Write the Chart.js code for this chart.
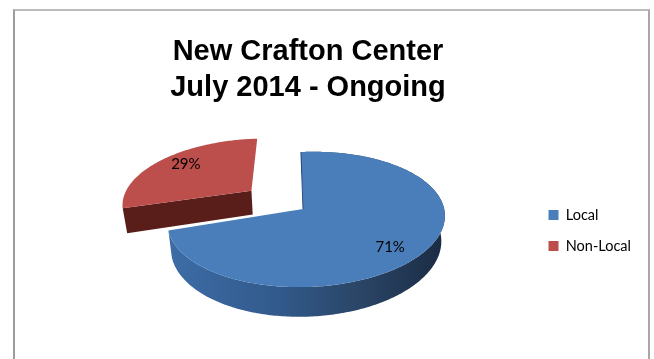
<!DOCTYPE html>
<html>
<head>
<meta charset="utf-8">
<title>New Crafton Center</title>
<style>
    html, body { margin: 0; padding: 0; background: #fff; overflow: hidden; }
    #frame { position: absolute; left: 13px; top: 9px; width: 637px; height: 350px; box-sizing: border-box;
             border-left: 2px solid #9c9c9c; border-right: 2px solid #a8a8a8; border-top: 2px solid #bcbcbc; }
    #chart { position: absolute; left: 0; top: 0; }
</style>
<script src="https://cdn.jsdelivr.net/npm/chart.js@4"></script>
</head>
<body>
<div id="frame"></div>
<canvas id="chart" width="654" height="359"></canvas>
<script>
const titleLines = ["New Crafton Center", "July 2014 - Ongoing"];
const categories = ["Local", "Non-Local"];
const shares = [71, 29];
const sliceColors = ["#4a7ebb", "#bc4f4b"];
const wallColors = ["#2d4f7c", "#591e19"];

// how far each slice is pulled out, and where its label sits (radius share, turn in radians)
const explode = [0, 0.5];
const sliceRoll = [0, -0.02];
const labelRadius = [0.8, 0.77];
const labelTurn = [0.13, 0.06];

// tilted-disc view of the pie
const view = { cx: 303, cy: 209, sx: 137, sy: 65.9, k: 0.156, m: 0.02, roll: 0.036 };

function project(px, py, lower, extraRoll) {
    const w = 1 - view.k * py - view.m * px;
    const x = view.sx * px / w;
    const y = view.sy * py / w;
    const roll = view.roll + extraRoll;
    let xr = x * Math.cos(roll) + y * Math.sin(roll);
    let yr = y * Math.cos(roll) - x * Math.sin(roll);
    if (lower) {
        xr *= 0.975;
        yr = yr * 1.06 + 25;
    }
    return [view.cx + xr, view.cy + yr];
}

function rim(arc, shift, lower, extraRoll) {
    const pts = [];
    const steps = Math.ceil((arc.endAngle - arc.startAngle) / 0.015);
    for (let i = 0; i <= steps; i++) {
        const a = arc.startAngle + (arc.endAngle - arc.startAngle) * i / steps;
        pts.push(project(shift[0] + Math.cos(a), shift[1] + Math.sin(a), lower, extraRoll));
    }
    return pts;
}

function fillPoly(ctx, pts, fill) {
    ctx.beginPath();
    pts.forEach((p, i) => i ? ctx.lineTo(p[0], p[1]) : ctx.moveTo(p[0], p[1]));
    ctx.closePath();
    ctx.fillStyle = fill;
    ctx.fill();
}

// draws the arcs computed by the pie controller as a thick tilted disc
const tiltedPie = {
    id: "tiltedPie",
    afterLayout(chart) {
        // the legend sits beside the pie, not in the middle of the canvas
        chart.legend.top += 51;
        chart.legend.bottom += 51;
    },
    beforeDatasetsDraw(chart) {
        const ctx = chart.ctx;
        const arcs = chart.getDatasetMeta(0).data;
        for (let i = arcs.length - 1; i >= 0; i--) {
            const arc = arcs[i];
            const mid = (arc.startAngle + arc.endAngle) / 2;
            const shift = [Math.cos(mid) * explode[i], Math.sin(mid) * explode[i]];
            const top = rim(arc, shift, false, sliceRoll[i]);
            const bottom = rim(arc, shift, true, sliceRoll[i]);
            const apexTop = project(shift[0], shift[1], false, sliceRoll[i]);
            const apexBottom = project(shift[0], shift[1], true, sliceRoll[i]);

            if (i === 0) {
                // outer wall, darker towards the right
                const shade = ctx.createLinearGradient(view.cx - 135, 0, view.cx + 140, 0);
                shade.addColorStop(0, "#3d6ca6");
                shade.addColorStop(0.4, "#325a8c");
                shade.addColorStop(0.7, "#2a4566");
                shade.addColorStop(1, "#1b2c44");
                fillPoly(ctx, top.concat(bottom.slice().reverse()), shade);
            }

            // front cut face
            if (i === 1) {
                fillPoly(ctx, [apexTop, top[0], bottom[0], apexBottom], wallColors[i]);
            }

            fillPoly(ctx, [apexTop].concat(top), sliceColors[i]);

            if (i === 0) {
                ctx.beginPath();
                ctx.moveTo(apexTop[0], apexTop[1]);
                ctx.lineTo(top[0][0], top[0][1]);
                ctx.strokeStyle = wallColors[0];
                ctx.lineWidth = 1;
                ctx.stroke();
            }
        }

        ctx.fillStyle = "#000";
        ctx.font = "15px Lato";
        ctx.textAlign = "center";
        ctx.textBaseline = "middle";
        arcs.forEach((arc, i) => {
            const mid = (arc.startAngle + arc.endAngle) / 2;
            const a = mid + labelTurn[i];
            const p = project(
                Math.cos(mid) * explode[i] + Math.cos(a) * labelRadius[i],
                Math.sin(mid) * explode[i] + Math.sin(a) * labelRadius[i],
                false,
                sliceRoll[i]
            );
            ctx.fillText(shares[i] + "%", p[0], p[1]);
        });
        return false;
    }
};

new Chart(document.getElementById("chart"), {
    type: "pie",
    data: {
        labels: categories,
        datasets: [{ data: shares, backgroundColor: sliceColors, borderWidth: 0 }]
    },
    options: {
        responsive: false,
        animation: false,
        layout: { padding: { left: 84, right: 13, top: 0, bottom: 0 } },
        plugins: {
            tooltip: { enabled: false },
            title: {
                display: true,
                text: titleLines,
                fullSize: false,
                color: "#000",
                font: { family: "'Liberation Sans'", size: 29, weight: "bold", lineHeight: 1.24 },
                padding: { top: 34, bottom: 10 }
            },
            legend: {
                position: "right",
                labels: {
                    boxWidth: 10,
                    boxHeight: 10,
                    padding: 16.5,
                    color: "#000",
                    font: { family: "Lato", size: 14.5 }
                }
            }
        }
    },
    plugins: [tiltedPie]
});
</script>
</body>
</html>
